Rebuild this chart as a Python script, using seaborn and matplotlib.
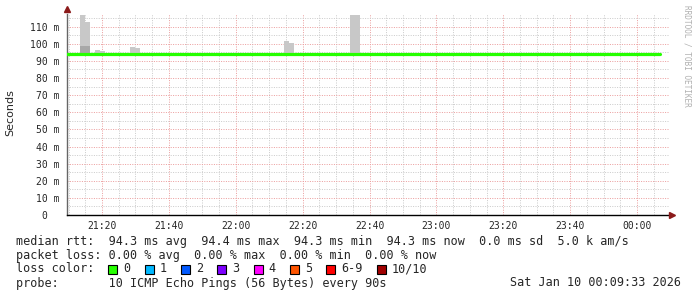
import matplotlib
matplotlib.use("Agg")
import matplotlib.pyplot as plt
import matplotlib.dates as mdates
import matplotlib.patches as mpatches
import seaborn as sns
import pandas as pd
import numpy as np

# ---------------- data ----------------
t_start = "2026-01-09 21:09:33"
t_end = "2026-01-10 00:09:33"

median_times = ["2026-01-09 21:09:33", "2026-01-09 21:40:00", "2026-01-09 22:20:00",
                "2026-01-09 23:00:00", "2026-01-09 23:40:00", "2026-01-10 00:06:52"]
median_rtt = [94.3, 94.3, 94.3, 94.3, 94.3, 94.3]

smoke_start = ["2026-01-09 21:13:25", "2026-01-09 21:14:55", "2026-01-09 21:17:55",
               "2026-01-09 21:19:25", "2026-01-09 21:28:25", "2026-01-09 21:29:55",
               "2026-01-09 22:14:30", "2026-01-09 22:16:00", "2026-01-09 22:34:10",
               "2026-01-09 22:35:40"]
smoke_top = [116.8, 112.7, 96.4, 95.8, 98.1, 97.5, 101.6, 100.5, 116.8, 116.8]
smoke_dark_top = [98.7, 98.7, 94.3, 94.3, 94.3, 94.3, 94.3, 94.3, 94.3, 94.3]

y_ticks = [0, 10, 20, 30, 40, 50, 60, 70, 80, 90, 100, 110]
y_tick_labels = ["0  ", "10 m", "20 m", "30 m", "40 m", "50 m", "60 m", "70 m",
                 "80 m", "90 m", "100 m", "110 m"]

legend_lines = [
    "median rtt:  94.3 ms avg  94.4 ms max  94.3 ms min  94.3 ms now  0.0 ms sd  5.0 k am/s",
    "packet loss: 0.00 % avg  0.00 % max  0.00 % min  0.00 % now",
]
loss_labels = ["0", "1", "2", "3", "4", "5", "6-9", "10/10"]
loss_colors = ["#26ff00", "#00b8ff", "#0059ff", "#7e00ff", "#ff00ff", "#ff5500", "#ff0000", "#a10000"]
probe_text = "probe:       10 ICMP Echo Pings (56 Bytes) every 90s"
date_text = "Sat Jan 10 00:09:33 2026"

# ---------------- figure ----------------
W, H = 697, 297
sns.set_style("white")
plt.rcParams["font.family"] = ["DejaVu Sans"]
fig = plt.figure(figsize=(W / 100, H / 100), dpi=100)
ax_l, ax_r, ax_t, ax_b = 67, 669, 14, 215
ax = fig.add_axes([ax_l / W, 1 - ax_b / H, (ax_r - ax_l) / W, (ax_b - ax_t) / H])
ax.set_facecolor("white")

xs = pd.to_datetime(smoke_start)
width = pd.Timedelta(seconds=90) / pd.Timedelta(days=1)
xnum = mdates.date2num(xs)
base = np.array(median_rtt[0])
ax.bar(xnum, np.array(smoke_top) - base, bottom=base, width=width, align="edge",
       color="#c8c8c8", linewidth=0, zorder=2)
ax.bar(xnum, np.array(smoke_dark_top) - base, bottom=base, width=width, align="edge",
       color="#a8a8a8", linewidth=0, zorder=2.1)

df = pd.DataFrame({"t": pd.to_datetime(median_times), "rtt": median_rtt})
sns.lineplot(data=df, x="t", y="rtt", ax=ax, color="#26ff00", linewidth=2.3, zorder=3)

ax.set_xlim(mdates.date2num(pd.Timestamp(t_start)), mdates.date2num(pd.Timestamp(t_end)))
ax.set_ylim(0, 117.4)

ax.xaxis.set_major_locator(mdates.MinuteLocator(byminute=[0, 20, 40]))
ax.xaxis.set_minor_locator(mdates.MinuteLocator(byminute=range(0, 60, 5)))
ax.xaxis.set_major_formatter(mdates.DateFormatter("%H:%M"))
ax.set_yticks(y_ticks)
ax.set_yticklabels(y_tick_labels)
ax.set_yticks(np.arange(5, 117, 10), minor=True)

dot = (0, (1, 1.4))
ax.grid(True, which="minor", color="#cccccc", linestyle=dot, linewidth=0.72, zorder=1)
ax.grid(True, which="major", color="#eca0a0", linestyle=dot, linewidth=0.72, zorder=1)
ax.set_axisbelow(True)

mono = "DejaVu Sans Mono"
ax.tick_params(axis="both", which="major", labelsize=7, length=2, width=0.7, color="#444444")
ax.tick_params(axis="both", which="minor", length=0)
ax.tick_params(axis="y", pad=3.6, direction="out")
ax.tick_params(axis="x", pad=3, direction="inout", length=3)
for lab in ax.get_xticklabels() + ax.get_yticklabels():
    lab.set_fontfamily(mono)
ax.set_xlabel("")
ax.set_ylabel("")

for s in ["top", "right"]:
    ax.spines[s].set_visible(False)
ax.spines["left"].set_color("#666666")
ax.spines["left"].set_linewidth(1.0)
ax.spines["bottom"].set_color("black")
ax.spines["bottom"].set_linewidth(1.0)
ax.plot([0], [1.025], marker="^", color="#8b1a1a", markersize=4.5, transform=ax.transAxes, clip_on=False, zorder=5)
ax.plot([1.005], [0], marker=">", color="#8b1a1a", markersize=4.5, transform=ax.transAxes, clip_on=False, zorder=5)

fig.text(10 / W, 1 - 113 / H, "Seconds", rotation=90, ha="center", va="center", fontsize=8)
fig.text(687 / W, 1 - 5 / H, "RRDTOOL / TOBI OETIKER", rotation=270, ha="center", va="top",
         fontsize=5.6, color="#b0b0b0", family=mono)

# legend / comments
fs = 8.5
cw = 0.602 * fs * 100 / 72
x0 = 16
ys = [241, 255, 269, 283]
for line, y in zip(legend_lines, ys[:2]):
    fig.text(x0 / W, 1 - y / H, line, family=mono, fontsize=fs, va="center", ha="left")
fig.text(x0 / W, 1 - ys[2] / H, "loss color:", family=mono, fontsize=fs, va="center", ha="left")
bx = x0 + 13 * cw
for lab, col in zip(loss_labels, loss_colors):
    fig.patches.append(mpatches.Rectangle((bx / W, 1 - (ys[2] + 5) / H), 9 / W, 9 / H,
                                          transform=fig.transFigure, facecolor=col,
                                          edgecolor="black", linewidth=0.8))
    lx = bx + 15
    fig.text(lx / W, 1 - ys[2] / H, lab, family=mono, fontsize=fs, va="center", ha="left")
    bx = lx + (len(lab) + 2) * cw
fig.text(x0 / W, 1 - ys[3] / H, probe_text, family=mono, fontsize=fs, va="center", ha="left")
fig.text(681 / W, 1 - ys[3] / H, date_text, family=mono, fontsize=fs, va="center", ha="right")

fig.savefig("out.png", dpi=100, facecolor="white")
